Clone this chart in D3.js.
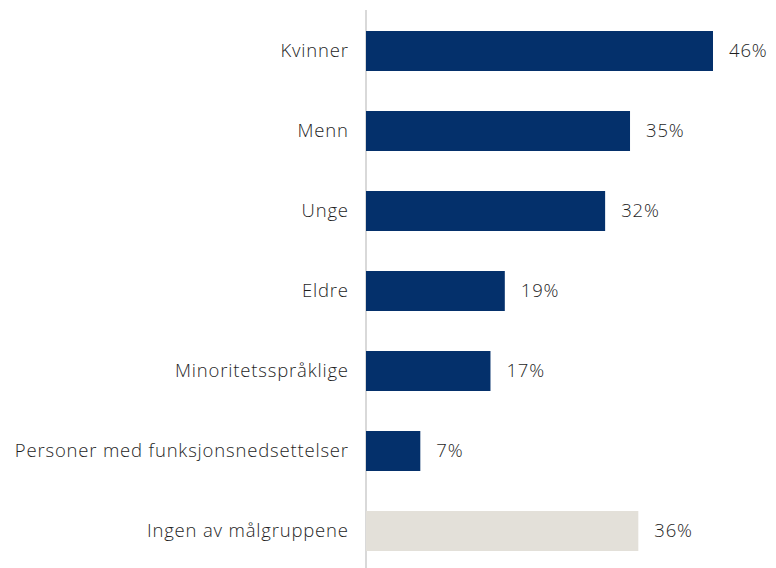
<!DOCTYPE html>
<html><head><meta charset="utf-8">
<script src="https://cdn.jsdelivr.net/npm/d3@7"></script>
<style>
html,body{margin:0;padding:0;background:#fff;}
svg text{font-family:"Open Sans","Lato",sans-serif;font-weight:300;fill:#1f1f1f;}
</style></head>
<body><svg id="c" width="776" height="568"></svg>
<script>
const categories = ["Kvinner","Menn","Unge","Eldre","Minoritetsspråklige","Personer med funksjonsnedsettelser","Ingen av målgruppene"];
const values = [46,35,31.7,18.4,16.5,7.2,36.1];
const labels = ["46%","35%","32%","19%","17%","7%","36%"];
const highlight = [false,false,false,false,false,false,true];

const svg = d3.select("#c");
const x = d3.scaleLinear().domain([0,46]).range([366,713]);
const y = d3.scaleBand().domain(categories).range([11,571]).paddingInner(0.5).paddingOuter(0.25);

svg.append("line").attr("x1",366).attr("x2",366).attr("y1",10).attr("y2",568)
  .attr("stroke","#d9d9d9").attr("stroke-width",2);

const data = categories.map((c,i)=>({c, v:values[i], l:labels[i], h:highlight[i]}));

svg.selectAll("rect.bar").data(data).join("rect").attr("class","bar")
  .attr("x",x(0)).attr("y",d=>y(d.c)).attr("width",d=>x(d.v)-x(0)).attr("height",y.bandwidth())
  .attr("fill",d=>d.h?"#e3e0d9":"#04306b");

const fs = 18.5;
const cats = svg.selectAll("text.cat").data(data).join("text").attr("class","cat")
  .attr("y",d=>y(d.c)+y.bandwidth()/2).attr("dy","0.35em")
  .attr("text-anchor","end").style("font-size",fs+"px").text(d=>d.c);

const longest = cats.filter(d=>d.c.startsWith("Personer")).node();
const w = longest.getComputedTextLength();
const ls = Math.max(0, (334 - w) / (longest.textContent.length));
cats.style("letter-spacing", ls+"px").attr("x",348+ls);

svg.selectAll("text.val").data(data).join("text").attr("class","val")
  .attr("x",d=>x(d.v)+16).attr("y",d=>y(d.c)+y.bandwidth()/2).attr("dy","0.35em")
  .style("font-size",fs+"px").style("letter-spacing", ls+"px").text(d=>d.l);
</script></body></html>
